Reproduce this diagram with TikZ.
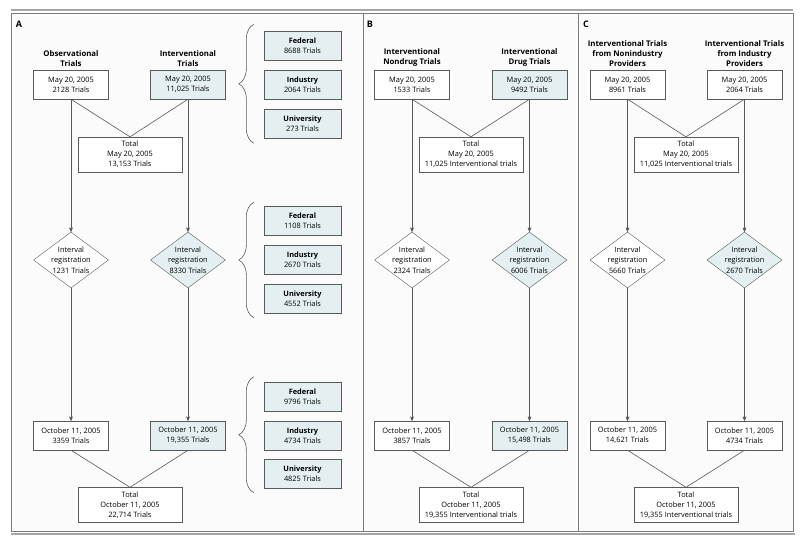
\documentclass[tikz,border=0pt]{standalone}
\usepackage{fontspec}
\setmainfont{Open Sans}
\usetikzlibrary{arrows,shapes.geometric,decorations.pathreplacing,calc}
\definecolor{shade}{HTML}{E4EFF1}
\definecolor{edge}{HTML}{5A5A5A}
\definecolor{paper}{HTML}{FBFBFB}
\tikzset{
	trial/.style = {rectangle, draw=edge, fill=white, align=center, inner sep=0pt,
		minimum width=75pt, minimum height=29pt, font=\fontsize{7.4}{10}\selectfont},
	trial_s/.style = {trial, fill=shade},
	total/.style = {trial, minimum width=104pt, minimum height=35pt},
	interval/.style = {diamond, draw=edge, fill=white, align=center, inner sep=-3pt,
		aspect=1.34, minimum width=75pt, minimum height=56pt,
		font=\fontsize{7.4}{10.5}\selectfont},
	interval_s/.style = {interval, fill=shade},
	source/.style = {trial_s, minimum width=77pt},
	head/.style = {anchor=south, align=center, inner sep=1pt,
		font=\bfseries\fontsize{7.8}{10}\selectfont},
	panel/.style = {draw=edge!80, fill=paper, line width=0.8pt},
	tag/.style = {anchor=center, font=\bfseries\fontsize{9}{10}\selectfont},
	flow/.style = {draw=edge, line width=0.6pt},
	bracket/.style = {draw=edge, line width=0.6pt,
		decorate, decoration={brace, amplitude=15pt}}
}

\begin{document}
\begin{tikzpicture}[x=1pt,y=-1pt,>=stealth']
\useasboundingbox (0,0) rectangle (800,543);
% frame
\draw[gray!70, line width=1.2pt] (11,10) -- (793,10);
\draw[gray!70, line width=1.2pt] (11,534) -- (795,534);
\draw[panel] (11,13) rectangle (363,531);
\draw[panel] (363,13) rectangle (578,531);
\draw[panel] (578,13) rectangle (793,531);
\node[tag] (tagA) at (19,24) {A};
\node[tag] (tagB) at (370,24) {B};
\node[tag] (tagC) at (586,24) {C};

% panel A
\node[head] (hObs) at (71,68) {Observational\\Trials};
\node[head] (hInt) at (188,68) {Interventional\\Trials};
\node[trial] (obsMay) at (71,84.5) {May 20, 2005\\2128 Trials};
\node[trial_s] (intMay) at (188,84.5) {May 20, 2005\\11,025 Trials};
\node[total] (totMay) at (130,154.5) {Total\\May 20, 2005\\13,153 Trials};
\node[interval] (obsReg) at (71,260) {Interval\\registration\\1231 Trials};
\node[interval_s] (intReg) at (188,260) {Interval\\registration\\8330 Trials};
\node[trial] (obsOct) at (71,435.5) {October 11, 2005\\3359 Trials};
\node[trial_s] (intOct) at (188,435.5) {October 11, 2005\\19,355 Trials};
\node[total] (totOct) at (130,505) {Total\\October 11, 2005\\22,714 Trials};

\node[source] (fedMay) at (302.5,46) {\textbf{Federal}\\8688 Trials};
\node[source] (indMay) at (302.5,84.5) {\textbf{Industry}\\2064 Trials};
\node[source] (uniMay) at (302.5,123.5) {\textbf{University}\\273 Trials};
\node[source] (fedReg) at (302.5,221) {\textbf{Federal}\\1108 Trials};
\node[source] (indReg) at (302.5,259.5) {\textbf{Industry}\\2670 Trials};
\node[source] (uniReg) at (302.5,299) {\textbf{University}\\4552 Trials};
\node[source] (fedOct) at (302.5,396.5) {\textbf{Federal}\\9796 Trials};
\node[source] (indOct) at (302.5,435.5) {\textbf{Industry}\\4734 Trials};
\node[source] (uniOct) at (302.5,474) {\textbf{University}\\4825 Trials};

\draw[bracket] ($(uniMay.south west)+(-10,5)$) -- ($(fedMay.north west)+(-10,-7)$);
\draw[bracket] ($(uniReg.south west)+(-10,4)$) -- ($(fedReg.north west)+(-10,-4)$);
\draw[bracket] ($(uniOct.south west)+(-10,4)$) -- ($(fedOct.north west)+(-10,-5)$);

\draw[flow] (obsMay.south) -- (totMay.north) -- (intMay.south);
\draw[flow] (obsOct.south) -- (totOct.north) -- (intOct.south);
\draw[flow,->] (obsMay) -- (obsReg);
\draw[flow,->] (intMay) -- (intReg);
\draw[flow,->] (obsReg) -- (obsOct);
\draw[flow,->] (intReg) -- (intOct);

% panel B
\node[head] (hNd) at (412,68) {Interventional\\Nondrug Trials};
\node[head] (hDr) at (529.5,68) {Interventional\\Drug Trials};
\node[trial] (ndMay) at (412,84.5) {May 20, 2005\\1533 Trials};
\node[trial_s] (drMay) at (529.5,84.5) {May 20, 2005\\9492 Trials};
\node[total] (tbMay) at (471,154.5) {Total\\May 20, 2005\\11,025 Interventional trials};
\node[interval] (ndReg) at (412,260) {Interval\\registration\\2324 Trials};
\node[interval_s] (drReg) at (529.5,260) {Interval\\registration\\6006 Trials};
\node[trial] (ndOct) at (412,435.5) {October 11, 2005\\3857 Trials};
\node[trial_s] (drOct) at (529.5,435.5) {October 11, 2005\\15,498 Trials};
\node[total] (tbOct) at (471,505) {Total\\October 11, 2005\\19,355 Interventional trials};

\draw[flow] (ndMay.south) -- (tbMay.north) -- (drMay.south);
\draw[flow] (ndOct.south) -- (tbOct.north) -- (drOct.south);
\draw[flow,->] (ndMay) -- (ndReg);
\draw[flow,->] (drMay) -- (drReg);
\draw[flow,->] (ndReg) -- (ndOct);
\draw[flow,->] (drReg) -- (drOct);

% panel C
\node[head] (hNi) at (627.5,68) {Interventional Trials\\from Nonindustry\\Providers};
\node[head] (hIn) at (744.5,68) {Interventional Trials\\from Industry\\Providers};
\node[trial] (niMay) at (627.5,84.5) {May 20, 2005\\8961 Trials};
\node[trial] (inMay) at (744.5,84.5) {May 20, 2005\\2064 Trials};
\node[total] (tcMay) at (686,154.5) {Total\\May 20, 2005\\11,025 Interventional trials};
\node[interval] (niReg) at (627.5,260) {Interval\\registration\\5660 Trials};
\node[interval_s] (inReg) at (744.5,260) {Interval\\registration\\2670 Trials};
\node[trial] (niOct) at (627.5,435.5) {October 11, 2005\\14,621 Trials};
\node[trial] (inOct) at (744.5,435.5) {October 11, 2005\\4734 Trials};
\node[total] (tcOct) at (686,505) {Total\\October 11, 2005\\19,355 Interventional trials};

\draw[flow] (niMay.south) -- (tcMay.north) -- (inMay.south);
\draw[flow] (niOct.south) -- (tcOct.north) -- (inOct.south);
\draw[flow,->] (niMay) -- (niReg);
\draw[flow,->] (inMay) -- (inReg);
\draw[flow,->] (niReg) -- (niOct);
\draw[flow,->] (inReg) -- (inOct);
\end{tikzpicture}
\end{document}
